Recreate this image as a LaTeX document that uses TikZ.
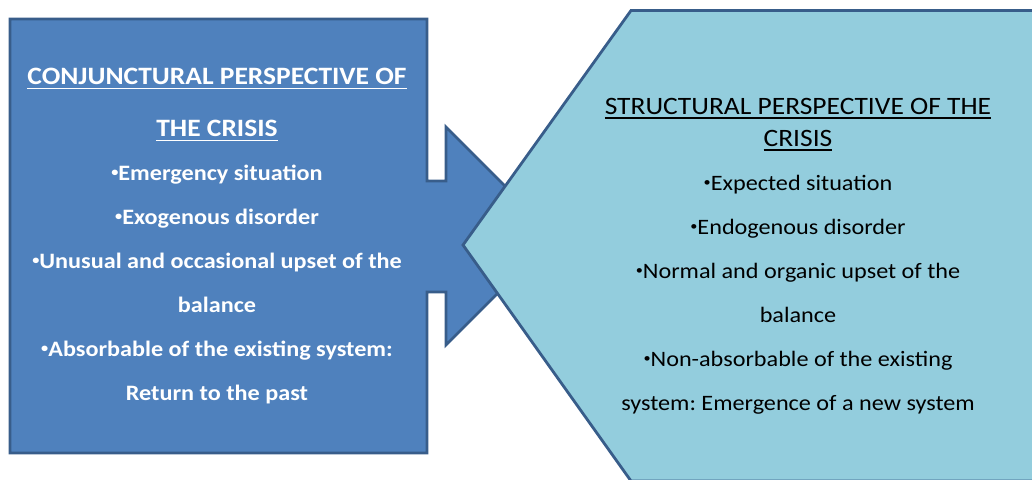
\documentclass[tikz,border=0pt]{standalone}
\usepackage{fontspec}
\setmainfont{Carlito}
\frenchspacing
\definecolor{boxblue}{HTML}{4F81BD}
\definecolor{aqua}{HTML}{93CDDD}
\definecolor{edgeblue}{HTML}{385D8A}
\newcommand\smallbul{\raisebox{4pt}{\fontsize{13}{13}\selectfont •}}
\newcommand\headline[1]{\leavevmode\vtop{\hbox{\fontsize{25}{44}\selectfont #1}\kern3pt\hrule height 1.8pt}}

\begin{document}
\begin{tikzpicture}[x=1pt, y=-1pt,
  shapeline/.style={draw=edgeblue, line width=2.8pt, line join=miter},
  conjtext/.style={text=white, align=center, inner sep=0pt, transform shape, font=\fontsize{22}{44}\selectfont\bfseries},
  structtext/.style={text=black, align=center, inner sep=0pt, transform shape, font=\fontsize{22}{44}\selectfont}]
\useasboundingbox (0,0) rectangle (1032,479);
\filldraw[shapeline, fill=boxblue] (10,19) -- (427,19) -- (427,181) -- (446,181) -- (446,127) -- (555,236)
  -- (446,345) -- (446,292) -- (427,292) -- (427,453) -- (10,453) -- cycle;
\begin{scope}
\clip (0,0) rectangle (1032,479);
\filldraw[shapeline, fill=aqua] (631,10.5) -- (1045,10.5) -- (1045,481) -- (631,481) -- (463,245) -- cycle;
\end{scope}
% text is a little wider than the font
\begin{scope}[shift={(217,236)}, xscale=1.1]
\node[conjtext] (conj) at (0,0) {\headline{CONJUNCTURAL PERSPECTIVE OF}\\[8pt]
  \headline{THE CRISIS}\\ \smallbul Emergency situation\\ \smallbul Exogenous disorder\\
  \smallbul Unusual and occasional upset of the\\ balance\\ \smallbul Absorbable of the existing system:\\
  Return to the past};
\end{scope}
\begin{scope}[shift={(798,256)}, xscale=1.1]
\node[structtext] (struct) at (0,0) {\headline{STRUCTURAL PERSPECTIVE OF THE}\\[-12pt]
  \headline{CRISIS}\\ \smallbul Expected situation\\ \smallbul Endogenous disorder\\
  \smallbul Normal and organic upset of the\\ balance\\ \smallbul Non-absorbable of the existing\\
  system: Emergence of a new system};
\end{scope}
\end{tikzpicture}
\end{document}
